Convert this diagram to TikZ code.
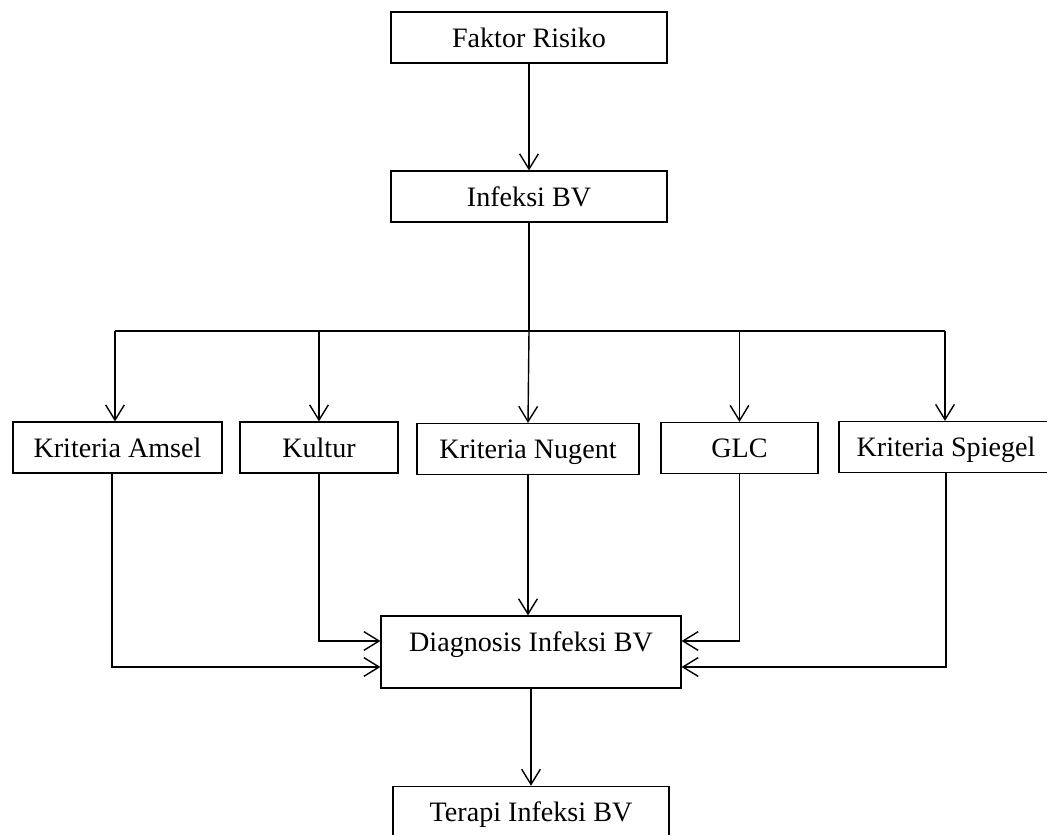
\documentclass[tikz,border=0pt]{standalone}
\usepackage{fontspec}
\setmainfont{Liberation Serif}
\usetikzlibrary{arrows.meta,calc}
\tikzset{
  kotak/.style={draw,line width=0.5pt,inner sep=0pt,text height=0.53cm,text depth=0.235cm,font=\fontsize{12}{14}\selectfont},
  panah/.style={-{Straight Barb[length=6.5pt,width=8pt,line width=0.6pt]},line width=0.6pt},
  garis/.style={line width=0.6pt}
}
\begin{document}
\begin{tikzpicture}[x=0.015cm,y=-0.015cm]
                \useasboundingbox (0,0) rectangle (1047,835);
                % kotak
                \node[kotak,minimum width=4.14cm] (faktor) at (529,37.5) {Faktor Risiko};
                \node[kotak,minimum width=4.14cm] (infeksi) at (529,196.5) {Infeksi BV};
                \node[kotak,minimum width=3.135cm] (amsel) at (117.5,447.5) {Kriteria Amsel};
                \node[kotak,minimum width=2.37cm] (kultur) at (319,447.5) {Kultur};
                \node[kotak,minimum width=3.33cm] (nugent) at (528,449) {Kriteria Nugent};
                \node[kotak,minimum width=2.355cm] (glc) at (739.5,448) {GLC};
                \node[kotak,minimum width=3.21cm] (spiegel) at (946,447) {Kriteria Spiegel};
                \node[kotak,minimum width=4.5cm,text height=0.525cm,text depth=0.555cm] (diag) at (531,652) {Diagnosis Infeksi BV};
                \node[kotak,minimum width=4.14cm,text depth=0.3cm] (terapi) at (531,814) {Terapi Infeksi BV};
                % panah atas
                \draw[panah] (faktor) -- (infeksi);
                \draw[garis] (infeksi.south) -- (529,331) coordinate (cabang);
                \draw[garis] (115,331) coordinate (kiri) -- (945,331) coordinate (kanan);
                \draw[panah] (kiri) -- (kiri |- amsel.north);
                \draw[panah] (kultur.north |- cabang) -- (kultur.north);
                \draw[panah] (cabang) -- (nugent.north);
                \draw[panah] (glc.north |- cabang) -- (glc.north);
                \draw[panah] (kanan) -- (kanan |- spiegel.north);
                % panah bawah
                \draw[panah] ([xshift=-0.08cm]amsel.south) |- ($(diag.west)+(0,15)$);
                \draw[panah] (kultur.south) |- ($(diag.west)+(0,-11)$);
                \draw[panah] (nugent.south) -- (nugent.south |- diag.north);
                \draw[panah] (glc.south) |- ($(diag.east)+(0,-11)$);
                \draw[panah] (spiegel.south) |- ($(diag.east)+(0,15)$);
                \draw[panah] (diag) -- (terapi);
\end{tikzpicture}
\end{document}
